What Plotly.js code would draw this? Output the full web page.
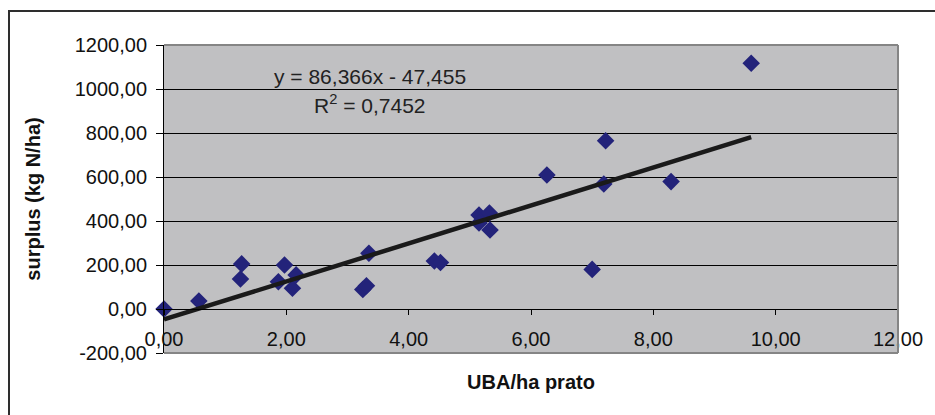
<!DOCTYPE html>
<html>
<head>
<meta charset="utf-8">
<script src="https://cdn.plot.ly/plotly-3.0.1.min.js"></script>
<style>
  html, body { margin: 0; padding: 0; background: #fff; overflow: hidden; }
  #chart { width: 935px; height: 415px; }
  /* outer chart-area frame */
  #frame { position: absolute; left: 8px; top: 10px; width: 1000px; height: 1000px;
           border: 2px solid #2e2e2e; pointer-events: none; }
</style>
</head>
<body>
<div id="chart"></div>
<div id="frame"></div>
<script>
// Livestock load per hectare of meadow (UBA/ha) against the nitrogen surplus per farm
const uba = [0.00, 0.57, 1.25, 1.27, 1.87, 1.97, 2.10, 2.16, 3.25, 3.31, 3.35, 4.42,
             4.52, 5.15, 5.15, 5.32, 5.33, 6.26, 7.00, 7.19, 7.22, 8.29, 9.60];
const surplus = [0, 36, 136, 205, 124, 200, 94, 155, 89, 106, 253, 218,
                 211, 427, 391, 436, 359, 609, 180, 568, 765, 579, 1117];

// linear trend line parameters
const trendSlope = 86.366;
const trendIntercept = -47.455;
const rSquared = 0.7452;

// axis ticks
const xTickVals = [0, 2, 4, 6, 8, 10, 12];
const xTickText = ['0,00', '2,00', '4,00', '6,00', '8,00', '10,00', '12,00'];
const yTickVals = [-200, 0, 200, 400, 600, 800, 1000, 1200];
const yTickText = ['-200,00', '0,00', '200,00', '400,00', '600,00', '800,00', '1000,00', '1200,00'];

const xRange = [0, 12];
const yRange = [-200, 1200];

const FONT = 'Liberation Sans, Arial, sans-serif';

function comma(v, digits) { return v.toFixed(digits).replace('.', ','); }

const xMax = Math.max(...uba);
const trendX = [0, xMax];
const trendY = trendX.map(x => trendSlope * x + trendIntercept);

const eqText = 'y = ' + comma(trendSlope, 3) + 'x ' + (trendIntercept < 0 ? '- ' : '+ ') +
               comma(Math.abs(trendIntercept), 3);
const r2Text = 'R<sup>2</sup> = ' + comma(rSquared, 4);

const points = {
  x: uba, y: surplus, type: 'scatter', mode: 'markers', cliponaxis: false,
  marker: { symbol: 'diamond', size: 13.5, color: '#23237a', line: { width: 0 } },
  hoverinfo: 'x+y'
};
const trend = {
  x: trendX, y: trendY, type: 'scatter', mode: 'lines',
  line: { color: '#1a1a1a', width: 4.5 }, hoverinfo: 'skip'
};

// x axis crosses the value axis at y = 0
const xCross = (0 - yRange[0]) / (yRange[1] - yRange[0]);

const edge = { color: '#858585', width: 2 };

const layout = {
  width: 935, height: 415,
  margin: { l: 164, r: 37, t: 45, b: 62 },
  paper_bgcolor: '#ffffff',
  plot_bgcolor: '#c0c0c2',
  showlegend: false,
  font: { family: FONT, color: '#000' },
  xaxis: {
    range: xRange, tickmode: 'array', tickvals: xTickVals, ticktext: xTickText,
    anchor: 'free', position: xCross,
    showline: true, linecolor: '#000', linewidth: 1,
    ticks: 'outside', ticklen: 5, tickcolor: '#000', tickwidth: 1,
    ticklabelstandoff: 7,
    showgrid: false, zeroline: false,
    tickfont: { family: FONT, size: 20, color: '#111' },
    title: { text: 'UBA/ha prato', standoff: 25,
             font: { family: FONT, size: 20, color: '#111', weight: 'bold' } },
    fixedrange: true
  },
  yaxis: {
    range: yRange, tickmode: 'array', tickvals: yTickVals, ticktext: yTickText,
    showline: true, linecolor: '#000', linewidth: 1,
    ticks: 'outside', ticklen: 7, tickcolor: '#000', tickwidth: 1,
    ticklabelstandoff: 5,
    showgrid: true, gridcolor: '#000', gridwidth: 1, zeroline: false,
    tickfont: { family: FONT, size: 20, color: '#111' },
    title: { text: 'surplus (kg N/ha)', standoff: 28,
             font: { family: FONT, size: 20, color: '#111', weight: 'bold' } },
    fixedrange: true
  },
  shapes: [
    { type: 'line', xref: 'paper', yref: 'paper', x0: 0, x1: 1, y0: 1, y1: 1, line: edge },
    { type: 'line', xref: 'paper', yref: 'paper', x0: 1, x1: 1, y0: 0, y1: 1, line: edge },
    { type: 'line', xref: 'paper', yref: 'paper', x0: 0, x1: 1, y0: 0, y1: 0, line: edge }
  ],
  annotations: [
    { text: eqText, xref: 'paper', yref: 'paper', x: 0.281, y: 0.899,
      xanchor: 'center', yanchor: 'middle', showarrow: false,
      font: { family: FONT, size: 21, color: '#222' } },
    { text: r2Text, xref: 'paper', yref: 'paper', x: 0.281, y: 0.810,
      xanchor: 'center', yanchor: 'middle', showarrow: false,
      font: { family: FONT, size: 21, color: '#222' } }
  ]
};

Plotly.newPlot('chart', [points, trend], layout, { displayModeBar: false, staticPlot: true });
</script>
</body>
</html>
